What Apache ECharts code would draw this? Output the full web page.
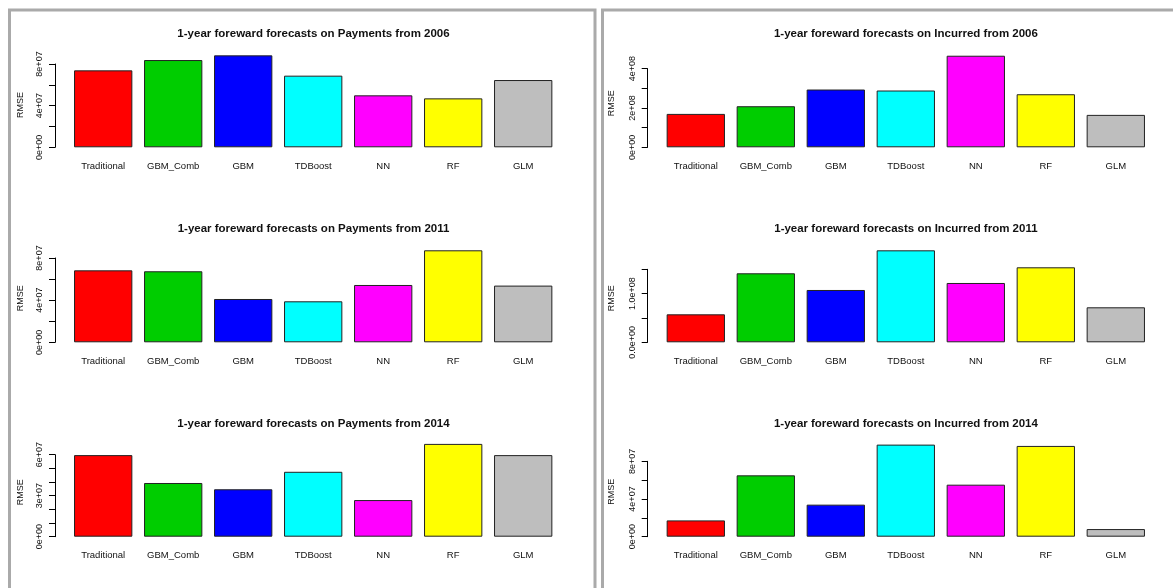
<!DOCTYPE html>
<html>
<head>
<meta charset="utf-8">
<script src="https://cdn.jsdelivr.net/npm/echarts@6/dist/echarts.min.js"></script>
<style>
html,body{margin:0;padding:0;background:#fff}
#chartmain{width:1173px;height:588px}
</style>
</head>
<body>
<div id="chartmain"></div>
<script>
var models=['Traditional','GBM_Comb','GBM','TDBoost','NN','RF','GLM'];
var barColors=['#FF0000','#00CD00','#0000FF','#00FFFF','#FF00FF','#FFFF00','#BEBEBE'];

var pay2006=[7.39e7,8.38e7,8.83e7,6.88e7,4.99e7,4.70e7,6.46e7];
var pay2011=[6.83e7,6.74e7,4.11e7,3.89e7,5.44e7,8.73e7,5.38e7];
var pay2014=[5.97e7,3.93e7,3.47e7,4.75e7,2.68e7,6.79e7,5.97e7];
var inc2006=[1.70e8,2.09e8,2.94e8,2.89e8,4.66e8,2.70e8,1.65e8];
var inc2011=[0.575e8,1.418e8,1.075e8,1.89e8,1.219e8,1.541e8,0.719e8];
var inc2014=[1.73e7,6.51e7,3.40e7,9.77e7,5.52e7,9.63e7,0.81e7];

var ticksPay2006=['0e+00','','4e+07','','8e+07'];
var ticksPay2011=['0e+00','','4e+07','','8e+07'];
var ticksPay2014=['0e+00','','','3e+07','','','6e+07'];
var ticksInc2006=['0e+00','','2e+08','','4e+08'];
var ticksInc2011=['0.0e+00','','1.0e+08',''];
var ticksInc2014=['0e+00','','4e+07','','8e+07'];

var titles=[
	'1-year foreward forecasts on Payments from 2006',
	'1-year foreward forecasts on Payments from 2011',
	'1-year foreward forecasts on Payments from 2014',
	'1-year foreward forecasts on Incurred from 2006',
	'1-year foreward forecasts on Incurred from 2011',
	'1-year foreward forecasts on Incurred from 2014'
];

var FONT='"Liberation Sans", Arial, sans-serif';

// layout of each panel (pixels)
var panels=[
	{data:pay2006,ticks:ticksPay2006,max:8e7,interval:2e7,left:68.2,top:64,height:83.3,offset:13.2,tx:313.5,ty:34.3,gap:30,shift:0.6},
	{data:pay2011,ticks:ticksPay2011,max:8e7,interval:2e7,left:68.2,top:258,height:84.3,offset:13.2,tx:313.5,ty:229.3,gap:30,shift:1.8},
	{data:pay2014,ticks:ticksPay2014,max:6e7,interval:1e7,left:68.2,top:454.7,height:82,offset:13.2,tx:313.5,ty:423.7,gap:30,shift:3.4},
	{data:inc2006,ticks:ticksInc2006,max:4e8,interval:1e8,left:660.8,top:68.7,height:78.6,offset:13.1,tx:905.9,ty:34.3,gap:32,shift:4.8},
	{data:inc2011,ticks:ticksInc2011,max:1.5e8,interval:5e7,left:660.8,top:269.3,height:73,offset:13.1,tx:905.9,ty:229.3,gap:32,shift:7.5},
	{data:inc2014,ticks:ticksInc2014,max:8e7,interval:2e7,left:660.8,top:461.3,height:75.4,offset:13.1,tx:905.9,ty:423.7,gap:32,shift:7.3}
];

var grids=[],xAxes=[],yAxes=[],series=[],graphics=[];

graphics.push({type:'rect',shape:{x:9.5,y:10,width:585.5,height:590},style:{fill:'none',stroke:'#aaaaaa',lineWidth:3},silent:true});
graphics.push({type:'rect',shape:{x:602.5,y:10,width:600,height:590},style:{fill:'none',stroke:'#aaaaaa',lineWidth:3},silent:true});

panels.forEach(function(p,i){
	grids.push({left:p.left,top:p.top,width:490,height:p.height,containLabel:false,outerBoundsMode:'none'});
	xAxes.push({
		type:'category',gridIndex:i,data:models,
		axisLine:{show:false},axisTick:{show:false},
		axisLabel:{interval:0,margin:14,fontSize:9.5,color:'#111',fontFamily:FONT}
	});
	yAxes.push({
		type:'value',gridIndex:i,min:0,max:p.max,interval:p.interval,offset:p.offset,
		name:'RMSE',nameLocation:'middle',nameRotate:90,nameGap:p.gap,
		nameTextStyle:{fontSize:9,color:'#111',fontFamily:FONT,padding:[0,0,0,2*p.shift]},
		splitLine:{show:false},
		axisLine:{show:true,lineStyle:{color:'#000',width:1}},
		axisTick:{show:true,length:6,lineStyle:{color:'#000',width:1}},
		axisLabel:{
			rotate:90,margin:11,fontSize:9,color:'#111',fontFamily:FONT,
			formatter:(function(ticks,step){return function(v){return ticks[Math.round(v/step)]||'';};})(p.ticks,p.interval)
		}
	});
	series.push({
		type:'bar',xAxisIndex:i,yAxisIndex:i,clip:false,
		barCategoryGap:'16.7%',
		itemStyle:{borderColor:'#222',borderWidth:1},
		data:p.data.map(function(v,k){return {value:v,itemStyle:{color:barColors[k]}};})
	});
	graphics.push({
		type:'text',x:p.tx,y:p.ty,silent:true,
		style:{text:titles[i],font:'bold 11.5px '+FONT,fill:'#111',
			textAlign:'center',textVerticalAlign:'middle',align:'center',verticalAlign:'middle'}
	});
});

var option={
	backgroundColor:'#fff',
	animation:false,
	grid:grids,
	xAxis:xAxes,
	yAxis:yAxes,
	series:series,
	graphic:graphics
};
var myChart=echarts.init(document.getElementById('chartmain'));
myChart.setOption(option);
</script>
</body>
</html>
